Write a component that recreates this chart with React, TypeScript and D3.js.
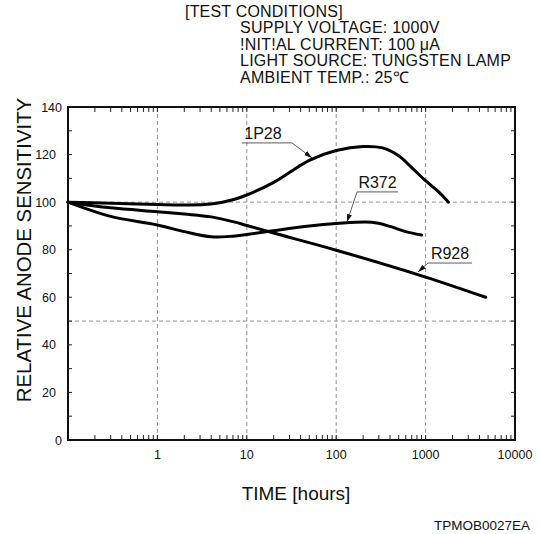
import * as d3 from "d3";

// relative anode sensitivity (%) vs time (hours)
const timeP28 = [0.1, 0.3, 1, 2, 4, 7, 10, 20, 50, 100, 200, 330, 500, 700, 1000, 1400, 1800];
const valP28 = [100, 99.5, 99, 98.8, 99.2, 101, 103, 108.3, 117.6, 121.7, 123.4, 122.8, 119.5, 114.5, 109, 104.3, 100];

const timeR372 = [0.1, 0.3, 1, 2, 4, 7, 10, 20, 50, 100, 250, 400, 600, 900];
const valR372 = [100, 94, 90.4, 87.6, 85.4, 85.7, 86.4, 88, 90, 91, 91.5, 89.8, 87.6, 86.2];

const timeR928 = [0.1, 0.3, 1, 2, 4, 7, 10, 20, 100, 1000, 4700];
const valR928 = [100, 97.6, 96, 95, 93.8, 91.8, 90.2, 87, 79.8, 68.5, 60];

// callouts: name, underline start/end (time), underline level, arrow tip
const labelNames = ["1P28", "R372", "R928"];
const labelT0 = [8.84, 171, 1064];
const labelT1 = [32, 491, 3304];
const labelV = [124.9, 104.3, 74.4];
const labelFromRight = [true, false, false];
const tipT = [53.6, 132, 822];
const tipV = [118.6, 91.6, 70.6];

const xTickLabels = [1, 10, 100, 1000, 10000];
const yTickLabels = [0, 20, 40, 60, 80, 100, 120, 140];
const xGrid = [1, 10, 100, 1000];
const yGrid = [50, 100];

const conditions = [
  "SUPPLY VOLTAGE: 1000V",
  "!NIT!AL CURRENT: 100 \u03bcA",
  "LIGHT SOURCE: TUNGSTEN LAMP",
  "AMBIENT TEMP.: 25\u2103",
];

const font = "'Liberation Sans', Arial, sans-serif";

export default function App() {
  const left = 68, right = 515, top = 107, bottom = 440;
  const x = d3.scaleLog().domain([0.1, 10000]).range([left, right]);
  const y = d3.scaleLinear().domain([0, 140]).range([bottom, top]);

  const line = d3.line<[number, number]>()
    .x(d => x(d[0]))
    .y(d => y(d[1]))
    .curve(d3.curveCatmullRom.alpha(0.5));

  const series = [
    d3.zip(timeP28, valP28),
    d3.zip(timeR372, valR372),
    d3.zip(timeR928, valR928),
  ];

  const minorX = x.ticks().filter(t => t > 0.1 && t < 10000);
  const minorY = d3.range(10, 140, 10);

  return (
    <svg width={540} height={534} style={{ position: "absolute", left: 0, top: 0, background: "#fff" }}
      fontFamily={font}>
      <defs>
        <marker id="arr" markerWidth={8} markerHeight={6} refX={8} refY={3} orient="auto"
          markerUnits="userSpaceOnUse">
          <path d="M0,0.5 L8,3 L0,5.5 z" fill="#111" />
        </marker>
      </defs>

      {/* test conditions */}
      <text x={185} y={16.5} fontSize={16} letterSpacing={0.2} fill="#111">[TEST CONDITIONS]</text>
      {conditions.map((c, i) => (
        <text key={c} x={240} y={33 + i * 16.5} fontSize={16} letterSpacing={0.25} fill="#111">{c}</text>
      ))}

      {/* grid */}
      {xGrid.map(t => (
        <line key={"gx" + t} x1={x(t)} x2={x(t)} y1={top} y2={bottom}
          stroke="#777" strokeWidth={0.8} strokeDasharray="4,3" />
      ))}
      {yGrid.map(v => (
        <line key={"gy" + v} x1={left} x2={right} y1={y(v)} y2={y(v)}
          stroke="#777" strokeWidth={0.8} strokeDasharray="4,3" />
      ))}

      {/* inner ticks */}
      {minorX.map(t => (
        <g key={"tx" + t}>
          <line x1={x(t)} x2={x(t)} y1={bottom} y2={bottom - 5} stroke="#222" strokeWidth={1} />
          <line x1={x(t)} x2={x(t)} y1={top} y2={top + 5} stroke="#222" strokeWidth={1} />
        </g>
      ))}
      {minorY.map(v => (
        <g key={"ty" + v}>
          <line x1={left} x2={left + 4} y1={y(v)} y2={y(v)} stroke="#222" strokeWidth={1} />
          <line x1={right} x2={right - 4} y1={y(v)} y2={y(v)} stroke="#222" strokeWidth={1} />
        </g>
      ))}

      <rect x={left} y={top} width={right - left} height={bottom - top}
        fill="none" stroke="#111" strokeWidth={2} />

      {/* tick labels */}
      {xTickLabels.map(t => (
        <text key={"lx" + t} x={x(t)} y={459} fontSize={12.5} textAnchor="middle" fill="#111">{t}</text>
      ))}
      {yTickLabels.map(v => (
        <text key={"ly" + v} x={v === 0 || v === 140 ? 62 : 56} y={y(v)} dy="0.36em"
          fontSize={12.5} textAnchor="end" fill="#111">{v}</text>
      ))}

      {/* curves */}
      {series.map((s, i) => (
        <path key={"s" + i} d={line(s as [number, number][]) || ""} fill="none"
          stroke="#000" strokeWidth={3} strokeLinecap="round" strokeLinejoin="round" />
      ))}

      {/* callouts */}
      {labelNames.map((n, i) => {
        const x0 = x(labelT0[i]), x1 = x(labelT1[i]), ly = y(labelV[i]);
        const jx = labelFromRight[i] ? x1 : x0;
        return (
          <g key={n}>
            <text x={(x0 + x1) / 2 - (i === 0 ? 4 : 0)} y={ly - 4} fontSize={16} textAnchor="middle" fill="#111">{n}</text>
            <line x1={x0} x2={x1} y1={ly} y2={ly} stroke="#333" strokeWidth={0.8} />
            <line x1={jx} y1={ly} x2={x(tipT[i])} y2={y(tipV[i])} stroke="#333" strokeWidth={0.8}
              markerEnd="url(#arr)" />
          </g>
        );
      })}

      {/* axis titles */}
      <text x={296} y={500} fontSize={19} textAnchor="middle" fill="#111">TIME [hours]</text>
      <text transform="translate(31,250) rotate(-90)" fontSize={20.4} textAnchor="middle" fill="#111">
        RELATIVE ANODE SENSITIVITY
      </text>
      <text x={530} y={530} fontSize={13.5} textAnchor="end" fill="#111">TPMOB0027EA</text>
    </svg>
  );
}
